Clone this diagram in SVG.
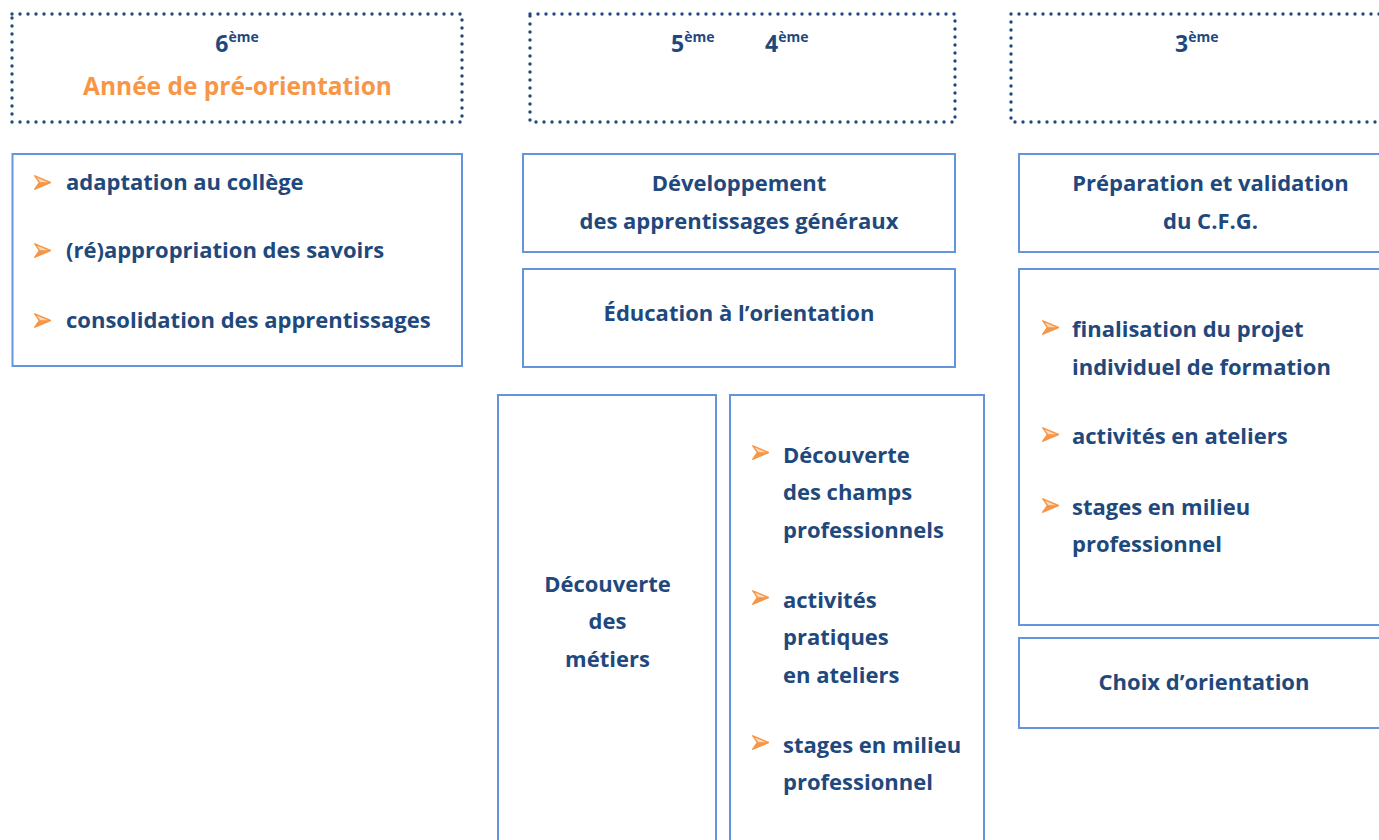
<svg xmlns="http://www.w3.org/2000/svg" xmlns:xlink="http://www.w3.org/1999/xlink" width="1379" height="840" viewBox="0 0 1379 840">
<defs>
<style>
.t{font-family:"Open Sans","Noto Sans","Liberation Sans",sans-serif;font-weight:700;font-size:22px;fill:#1F497D}
.c{text-anchor:middle}
.o{fill:#F79646;font-size:24.5px}
.num{font-size:23px}
.sup{font-size:14px}
.dot{fill:none;stroke:#1F497D;stroke-width:3.4;stroke-dasharray:0 8;stroke-linecap:round}
.box{fill:#fff;stroke:#6495DC;stroke-width:2}
</style>
<symbol id="arr" viewBox="0 0 17 15" overflow="visible">
<path d="M0.8,0.8 L16.4,7.5 L0.8,14.2 L5.5,7.5 Z" fill="#FCD9BA" stroke="#F79646" stroke-width="1.4" stroke-linejoin="round"/>
<path d="M0.8,14.2 L16.4,7.5 L5.5,7.5 Z" fill="#F79646" stroke="#F79646" stroke-width="0.6" stroke-linejoin="round"/>
</symbol>
</defs>
<rect width="1379" height="840" fill="#fff"/>

<g id="connectors"></g>

<g id="head6">
<rect class="dot" x="12" y="14" width="450" height="108"/>
<text class="t num c" x="237" y="52">6<tspan class="sup" dy="-10">ème</tspan></text>
<text class="t c o" x="237.5" y="95">Année de pré-orientation</text>
</g>

<g id="head54">
<rect class="dot" x="530" y="14" width="425" height="108"/>
<text class="t num" x="671" y="52">5<tspan class="sup" dy="-10">ème</tspan></text>
<text class="t num" x="765" y="52">4<tspan class="sup" dy="-10">ème</tspan></text>
</g>

<g id="head3">
<rect class="dot" x="1011" y="14" width="400" height="108"/>
<text class="t num" x="1175" y="52">3<tspan class="sup" dy="-10">ème</tspan></text>
</g>

<g id="box6">
<rect class="box" x="12.5" y="154" width="449.5" height="212"/>
<use xlink:href="#arr" x="34" y="175" width="17" height="15"/>
<text class="t" x="66" y="190">adaptation au collège</text>
<use xlink:href="#arr" x="34" y="243" width="17" height="15"/>
<text class="t" x="66" y="258">(ré)appropriation des savoirs</text>
<use xlink:href="#arr" x="34" y="313" width="17" height="15"/>
<text class="t" x="66" y="328">consolidation des apprentissages</text>
</g>

<g id="dev">
<rect class="box" x="523" y="154" width="432" height="98"/>
<text class="t c" x="739" y="191">Développement</text>
<text class="t c" x="739" y="229">des apprentissages généraux</text>
</g>

<g id="edu">
<rect class="box" x="523" y="269" width="432" height="98"/>
<text class="t c" x="739" y="321">Éducation à l’orientation</text>
</g>

<g id="metiers">
<rect class="box" x="498" y="395" width="218" height="460"/>
<text class="t c" x="607.5" y="592">Découverte</text>
<text class="t c" x="607.5" y="629">des</text>
<text class="t c" x="607.5" y="667">métiers</text>
</g>

<g id="champs">
<rect class="box" x="730" y="395" width="254" height="460"/>
<use xlink:href="#arr" x="752" y="445" width="17" height="15"/>
<text class="t" x="783" y="463">Découverte</text>
<text class="t" x="783" y="500">des champs</text>
<text class="t" x="783" y="538">professionnels</text>
<use xlink:href="#arr" x="752" y="590" width="17" height="15"/>
<text class="t" x="783" y="608">activités</text>
<text class="t" x="783" y="645">pratiques</text>
<text class="t" x="783" y="683">en ateliers</text>
<use xlink:href="#arr" x="752" y="735" width="17" height="15"/>
<text class="t" x="783" y="753">stages en milieu</text>
<text class="t" x="783" y="790">professionnel</text>
</g>

<g id="cfg">
<rect class="box" x="1019" y="154" width="383" height="98"/>
<text class="t c" x="1210.5" y="191">Préparation et validation</text>
<text class="t c" x="1210.5" y="229">du C.F.G.</text>
</g>

<g id="projet">
<rect class="box" x="1019" y="269" width="383" height="356"/>
<use xlink:href="#arr" x="1042" y="320" width="17" height="15"/>
<text class="t" x="1072" y="337">finalisation du projet</text>
<text class="t" x="1072" y="375">individuel de formation</text>
<use xlink:href="#arr" x="1042" y="427" width="17" height="15"/>
<text class="t" x="1072" y="444">activités en ateliers</text>
<use xlink:href="#arr" x="1042" y="498" width="17" height="15"/>
<text class="t" x="1072" y="515">stages en milieu</text>
<text class="t" x="1072" y="552">professionnel</text>
</g>

<g id="choix">
<rect class="box" x="1019" y="638" width="383" height="90"/>
<text class="t c" x="1204" y="690">Choix d’orientation</text>
</g>
</svg>
